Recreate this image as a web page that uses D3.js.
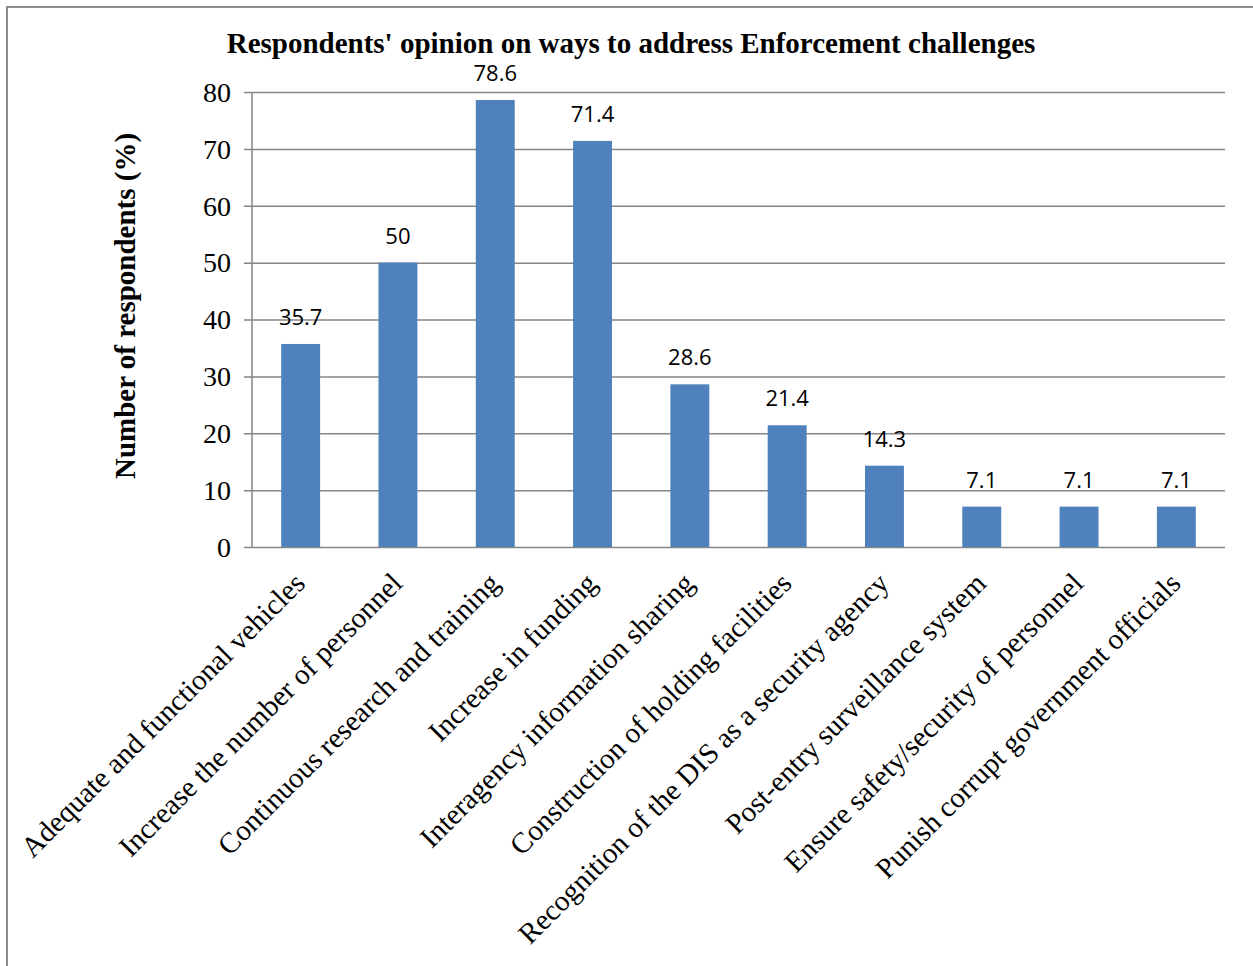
<!DOCTYPE html>
<html>
<head>
<meta charset="utf-8">
<script src="https://cdn.jsdelivr.net/npm/d3@7"></script>
<style>
  body { margin: 0; background: #fff; }
  .grid line { stroke: #868686; stroke-width: 1.5; }
  .grid path { display: none; }
</style>
</head>
<body>
<svg width="1253" height="966"></svg>
<script>
var categories = [
    'Adequate and functional vehicles',
    'Increase the number of personnel',
    'Continuous research and training',
    'Increase in funding',
    'Interagency information sharing',
    'Construction of holding facilities',
    'Recognition of the DIS as a security agency',
    'Post-entry surveillance system',
    'Ensure safety/security of personnel',
    'Punish corrupt government officials'
];
var values = [35.7, 50, 78.6, 71.4, 28.6, 21.4, 14.3, 7.1, 7.1, 7.1];
var valueLabels = ['35.7', '50', '78.6', '71.4', '28.6', '21.4', '14.3', '7.1', '7.1', '7.1'];
var yTicks = [0, 10, 20, 30, 40, 50, 60, 70, 80];

var svg = d3.select('svg');

// outer frame
svg.append('rect')
    .attr('x', 7).attr('y', 7)
    .attr('width', 1260).attr('height', 980)
    .attr('fill', 'none')
    .attr('stroke', '#8c8c8c')
    .attr('stroke-width', 2);

var plot = {l: 252, r: 1225, t: 92, b: 547};

var x = d3.scaleBand()
    .domain(categories)
    .range([plot.l, plot.r])
    .paddingInner(0.6)
    .paddingOuter(0.3);

var y = d3.scaleLinear()
    .domain([0, 80])
    .range([plot.b, plot.t]);

// gridlines with small outside ticks
var grid = svg.append('g')
    .attr('class', 'grid')
    .attr('transform', 'translate(' + plot.l + ',0)')
    .call(d3.axisLeft(y).tickValues(yTicks).tickSize(-(plot.r - plot.l)).tickFormat(''));
grid.selectAll('.tick line').attr('x1', -8);

// vertical axis line
svg.append('line')
    .attr('x1', plot.l).attr('x2', plot.l)
    .attr('y1', y(80)).attr('y2', y(0))
    .attr('stroke', '#868686')
    .attr('stroke-width', 1.5);

// y tick labels
svg.selectAll('.ylab')
    .data(yTicks)
    .enter()
    .append('text')
    .attr('class', 'ylab')
    .attr('x', 231)
    .attr('y', d => y(d))
    .attr('dy', '0.35em')
    .attr('text-anchor', 'end')
    .style('font-family', '"Liberation Serif", "Times New Roman", serif')
    .style('font-size', '28px')
    .text(d => d);

// bars
svg.selectAll('.bar')
    .data(values)
    .enter()
    .append('rect')
    .attr('class', 'bar')
    .attr('x', (d, i) => x(categories[i]))
    .attr('y', d => y(d))
    .attr('width', x.bandwidth())
    .attr('height', d => y(0) - y(d))
    .attr('fill', '#4f81bd');

// value labels
svg.selectAll('.vlab')
    .data(values)
    .enter()
    .append('text')
    .attr('class', 'vlab')
    .attr('x', (d, i) => x(categories[i]) + x.bandwidth() / 2)
    .attr('y', d => y(d) - 19)
    .attr('text-anchor', 'middle')
    .style('font-family', '"Open Sans", "Liberation Sans", sans-serif')
    .style('font-size', '22px')
    .text((d, i) => valueLabels[i]);

// category labels
svg.selectAll('.xlab')
    .data(categories)
    .enter()
    .append('text')
    .attr('class', 'xlab')
    .attr('transform', d => 'translate(' + (x(d) + x.bandwidth() / 2 + 6) + ',' + (plot.b + 38) + ') rotate(-45)')
    .attr('text-anchor', 'end')
    .style('font-family', '"Liberation Serif", "Times New Roman", serif')
    .style('font-size', '29px')
    .text(d => d);

// title
svg.append('text')
    .attr('x', 631)
    .attr('y', 53)
    .attr('text-anchor', 'middle')
    .style('font-family', '"Liberation Serif", "Times New Roman", serif')
    .style('font-size', '29px')
    .style('font-weight', 'bold')
    .text("Respondents' opinion on ways to address Enforcement challenges");

// y axis title
svg.append('text')
    .attr('transform', 'translate(135,306) rotate(-90)')
    .attr('text-anchor', 'middle')
    .style('font-family', '"Liberation Serif", "Times New Roman", serif')
    .style('font-size', '29px')
    .style('font-weight', 'bold')
    .text('Number of respondents (%)');
</script>
</body>
</html>
